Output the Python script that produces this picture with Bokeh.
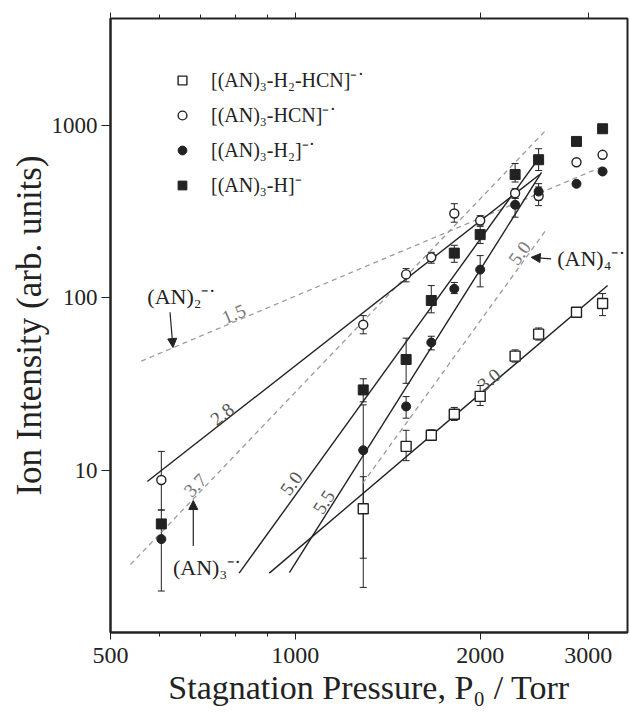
import numpy as np
from bokeh.plotting import figure
from bokeh.models import (ColumnDataSource, Whisker, TeeHead, FixedTicker, PrintfTickFormatter,
                          CustomJSTickFormatter, LogAxis, Arrow, NormalHead, Legend, LegendItem)
from bokeh.core.properties import value
from bokeh.embed import file_html
from bokeh.resources import INLINE

FONT = "Liberation Serif"
INK = "#222222"
DASH = "#9a9a9a"

# ---------------- axes ----------------
x_ticks = [500, 1000, 2000, 3000]
x_minor = [600, 700, 800, 900]
y_ticks = [10, 100, 1000]

# ---------------- data ----------------
# [(AN)3-H2-HCN]-.  open squares
p_a = [1290, 1515, 1665, 1815, 2000, 2280, 2490, 2870, 3165]
i_a = [6.0, 13.8, 16.0, 21.2, 26.9, 46.0, 61.7, 82.6, 92.9]
lo_a = [2.1, 11.4, 15.0, 19.5, 23.8, 42.5, 57.0, np.nan, 79.0]
hi_a = [9.2, 17.1, 17.2, 23.2, 31.1, 50.0, 67.0, np.nan, 106.0]

# [(AN)3-HCN]-.  open circles
p_b = [605, 1290, 1515, 1665, 1815, 2000, 2280, 2490, 2870, 3165]
i_b = [8.8, 70.0, 137.0, 172.0, 309.0, 281.0, 405.0, 390.0, 612.0, 676.0]
lo_b = [5.9, 62.0, 124.0, 159.0, 275.0, 265.0, 380.0, 343.0, np.nan, np.nan]
hi_b = [12.9, 79.0, 148.0, 184.0, 352.0, 300.0, 430.0, 440.0, np.nan, np.nan]

# [(AN)3-H2]-.  filled circles
p_c = [605, 1290, 1515, 1665, 1815, 2000, 2280, 2490, 2870, 3165]
i_c = [4.0, 13.1, 23.5, 55.2, 113.0, 146.0, 347.0, 414.0, 459.0, 541.0]
lo_c = [2.0, 3.1, 20.1, 50.0, 106.0, 116.0, 294.0, 370.0, np.nan, np.nan]
hi_c = [5.9, 24.0, 26.8, 60.0, 123.0, 176.0, 378.0, 460.0, np.nan, np.nan]

# [(AN)3-H]-  filled squares
p_d = [605, 1290, 1515, 1665, 1815, 2000, 2280, 2490, 2870, 3165]
i_d = [4.9, 29.3, 44.0, 96.7, 182.0, 233.0, 520.0, 633.0, 808.0, 957.0]
lo_d = [np.nan, 25.0, 32.0, 82.0, 161.0, 207.0, 470.0, 548.0, np.nan, np.nan]
hi_d = [np.nan, 34.0, 58.5, 118.0, 202.0, 260.0, 602.0, 733.0, np.nan, np.nan]

labels = ["[(AN)\u2083-H\u2082-HCN]\u207b\u02d9",
          "[(AN)\u2083-HCN]\u207b\u02d9",
          "[(AN)\u2083-H\u2082]\u207b\u02d9",
          "[(AN)\u2083-H]\u207b"]

# power-law fits (solid): start/end pressure and intensity
fit_x0 = [574, 810, 978, 907]
fit_x1 = [2500, 2510, 2517, 3225]
fit_y0 = [8.63, 2.54, 2.56, 2.54]
fit_y1 = [520, 670, 534, 118]
fit_lab = ["2.8", "5.0", "5.5", "3.0"]
fit_lab_x = [760, 985, 1112, 2068]
fit_lab_y = [21.2, 8.41, 6.56, 33.6]
fit_lab_ang = [38, 54, 57, 40]

# reference (AN)n-. slopes (dashed)
ref_x0 = [561, 539, 1287]
ref_x1 = [3200, 2556, 2556]
ref_y0 = [43.0, 2.85, 8.41]
ref_y1 = [588, 935, 246]
ref_lab = ["1.5", "3.7", "5.0"]
ref_lab_x = [794, 687, 2318]
ref_lab_y = [80.9, 8.22, 182]
ref_lab_ang = [23, 46, 54]

# cluster names and arrows
name_text = ["(AN)\u2082\u207b\u02d9", "(AN)\u2083\u207b\u02d9", "(AN)\u2084\u207b\u02d9"]
name_x = [574, 632, 2670]
name_y = [102, 2.74, 169]
arr_x0 = [625, 682, 2610]
arr_y0 = [82.6, 3.65, 168.5]
arr_x1 = [632, 682, 2422]
arr_y1 = [51.6, 6.70, 172]

# ---------------- figure ----------------
p = figure(width=630, height=714, x_axis_type="log", y_axis_type="log",
           x_range=(500, 3475), y_range=(1.15, 4170),
           output_backend="svg", toolbar_location=None,
           min_border_left=110, min_border_right=3, min_border_top=18, min_border_bottom=82)
p.xgrid.visible = False
p.ygrid.visible = False
p.outline_line_color = INK
p.outline_line_width = 2
p.background_fill_color = "white"
p.border_fill_color = "white"

xa = p.xaxis[0]
xa.ticker = FixedTicker(ticks=x_ticks, minor_ticks=x_minor)
xa.formatter = PrintfTickFormatter(format="%d")
xa.major_tick_out = 7
xa.major_tick_in = 0
xa.minor_tick_out = 4
xa.minor_tick_in = 0
xa.axis_line_color = INK
xa.axis_line_width = 2
xa.major_tick_line_color = INK
xa.minor_tick_line_color = INK
xa.major_label_text_font = FONT
xa.major_label_text_font_size = "24px"
xa.major_label_text_color = INK
xa.major_label_standoff = 8
xa.axis_label = "Stagnation Pressure, P\u2080 / Torr"
xa.axis_label_text_font = FONT
xa.axis_label_text_font_size = "34px"
xa.axis_label_text_font_style = "normal"
xa.axis_label_text_color = INK
xa.axis_label_standoff = 3

ya = p.yaxis[0]
ya.ticker = FixedTicker(ticks=y_ticks, minor_ticks=[])
ya.formatter = PrintfTickFormatter(format="%d")
ya.major_tick_out = 9
ya.major_tick_in = 0
ya.minor_tick_out = 0
ya.minor_tick_in = 0
ya.axis_line_color = INK
ya.axis_line_width = 2
ya.major_tick_line_color = INK
ya.major_label_text_font = FONT
ya.major_label_text_font_size = "23px"
ya.major_label_text_color = INK
ya.major_label_standoff = 4
ya.axis_label = "Ion Intensity (arb. units)"
ya.axis_label_text_font = FONT
ya.axis_label_text_font_size = "35px"
ya.axis_label_text_font_style = "normal"
ya.axis_label_text_color = INK
ya.axis_label_standoff = 0

top = LogAxis(ticker=FixedTicker(ticks=x_ticks, minor_ticks=x_minor),
              formatter=CustomJSTickFormatter(code="return ''"),
              major_label_standoff=0,
              major_tick_out=6, major_tick_in=0, minor_tick_out=4, minor_tick_in=0,
              axis_line_color=None, major_tick_line_color=INK, minor_tick_line_color=INK)
p.add_layout(top, "above")

# dashed reference lines
p.segment(x0=ref_x0, y0=ref_y0, x1=ref_x1, y1=ref_y1, line_color=DASH,
          line_width=1.3, line_dash="5 4")
# solid fits
p.segment(x0=fit_x0, y0=fit_y0, x1=fit_x1, y1=fit_y1, line_color=INK, line_width=1.4)

# error bars
def add_err(px, lo, hi):
    px = np.array(px, float); lo = np.array(lo, float); hi = np.array(hi, float)
    m = ~np.isnan(lo)
    src = ColumnDataSource(dict(x=px[m], lo=lo[m], hi=hi[m]))
    w = Whisker(source=src, base="x", lower="lo", upper="hi", dimension="height",
                line_color=INK, line_width=1,
                upper_head=TeeHead(size=7, line_color=INK, line_width=1),
                lower_head=TeeHead(size=7, line_color=INK, line_width=1))
    p.add_layout(w)

for px, lo, hi in [(p_a, lo_a, hi_a), (p_b, lo_b, hi_b), (p_c, lo_c, hi_c), (p_d, lo_d, hi_d)]:
    add_err(px, lo, hi)

ra = p.scatter(p_a, i_a, marker="square", size=10, fill_color="white", line_color=INK, line_width=1.4)
rb = p.scatter(p_b, i_b, marker="circle", size=9, fill_color="white", line_color=INK, line_width=1.4)
rc = p.scatter(p_c, i_c, marker="circle", size=9, fill_color=INK, line_color=INK)
rd = p.scatter(p_d, i_d, marker="square", size=10, fill_color=INK, line_color=INK)

# slope labels
p.text(x=fit_lab_x, y=fit_lab_y, text=fit_lab, angle=[np.deg2rad(a) for a in fit_lab_ang],
       text_font=value(FONT), text_font_size="19px", text_color="#555555",
       text_align="center", text_baseline="middle")
p.text(x=ref_lab_x, y=ref_lab_y, text=ref_lab, angle=[np.deg2rad(a) for a in ref_lab_ang],
       text_font=value(FONT), text_font_size="19px", text_color="#777777",
       text_align="center", text_baseline="middle")

# cluster names
p.text(x=name_x, y=name_y, text=name_text, text_font=value(FONT), text_font_size="22px",
       text_color=INK, text_align="left", text_baseline="middle")

for xs, ys, xe, ye in zip(arr_x0, arr_y0, arr_x1, arr_y1):
    p.add_layout(Arrow(x_start=xs, y_start=ys, x_end=xe, y_end=ye, line_color=INK, line_width=1.2,
                       end=NormalHead(size=9, fill_color=INK, line_color=INK)))

legend = Legend(items=[LegendItem(label=labels[0], renderers=[ra]),
                       LegendItem(label=labels[1], renderers=[rb]),
                       LegendItem(label=labels[2], renderers=[rc]),
                       LegendItem(label=labels[3], renderers=[rd])],
                location=(61, 434), padding=0, margin=0, spacing=8,
                glyph_width=22, glyph_height=22, label_height=22, label_standoff=18,
                label_text_font=FONT, label_text_font_size="20px", label_text_color=INK,
                border_line_alpha=0, background_fill_alpha=0)
p.add_layout(legend)

open("out.html", "w").write(file_html(p, INLINE))
